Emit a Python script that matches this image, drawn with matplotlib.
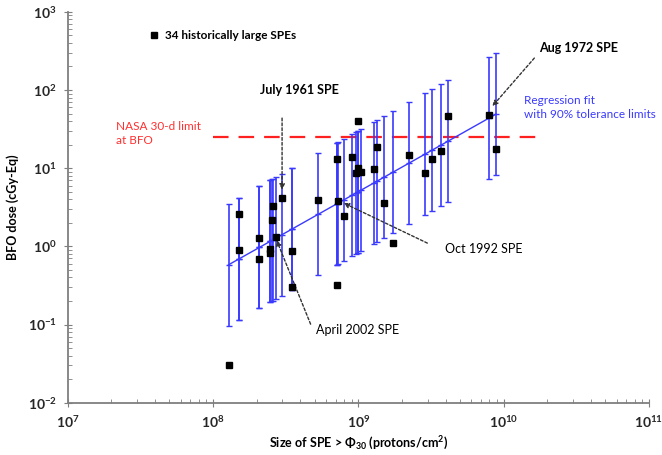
import numpy as np
import matplotlib.pyplot as plt
from matplotlib.ticker import LogLocator, FuncFormatter, NullFormatter

plt.rcParams['font.family'] = ['Lato', 'DejaVu Sans']
plt.rcParams['mathtext.fontset'] = 'custom'
plt.rcParams['mathtext.rm'] = 'Lato:bold'
plt.rcParams['mathtext.bf'] = 'Lato:bold'
plt.rcParams['mathtext.it'] = 'Lato:bold'

# SPE size (protons/cm2) and BFO dose (cGy-Eq)
spe_size = [1.28e8, 1.50e8, 1.51e8, 2.09e8, 2.09e8, 2.48e8, 2.48e8, 2.54e8, 2.59e8,
            2.73e8, 2.99e8, 3.48e8, 3.48e8, 5.29e8, 7.13e8, 7.21e8, 7.13e8, 7.93e8,
            9.04e8, 9.94e8, 9.94e8, 9.58e8, 1.04e9, 1.336e9, 1.288e9, 1.50e9, 1.73e9,
            2.25e9, 2.89e9, 3.24e9, 3.72e9, 4.17e9, 7.99e9, 8.88e9]
bfo_dose = [0.030, 0.897, 2.61, 1.28, 0.682, 0.916, 0.82, 2.19, 3.30,
            1.33, 4.15, 0.884, 0.299, 3.91, 12.96, 3.85, 0.317, 2.44,
            13.7, 39.7, 10.1, 8.73, 9.05, 18.5, 9.88, 3.61, 1.09,
            14.8, 8.79, 12.96, 16.7, 46.4, 48.2, 17.7]

# half width of the 90% tolerance band, in decades
tol_decades = 0.78
nasa_limit = 25.0

x = np.array(spe_size)
y = np.array(bfo_dose)
# log-log regression fit
slope, intercept = np.polyfit(np.log10(x), np.log10(y), 1)
order = np.argsort(x)
xs = x[order]
pred = 10 ** (intercept + slope * np.log10(xs))
lower = pred - pred / 10 ** tol_decades
upper = pred * 10 ** tol_decades - pred

blue = '#3a3aff'
fig = plt.figure(figsize=(6.62, 4.55), dpi=100)
ax = fig.add_axes([0.1023, 0.115, 0.8777, 0.859])

ax.errorbar(xs, pred, yerr=[lower, upper], fmt='-', color=blue, lw=1.0,
            elinewidth=1.2, capsize=2.5, capthick=1.0, marker='_', ms=5, zorder=2)
ax.plot(x, y, 's', color='black', ms=5, zorder=4, label='34 historically large SPEs')

ax.plot([1e8, 1.85e10], [nasa_limit, nasa_limit], color='#ff2020', lw=1.6,
        dashes=(7, 4.5), zorder=1)

ax.set_xscale('log')
ax.set_yscale('log')
ax.set_xlim(1e7, 1e11)
ax.set_ylim(1e-2, 1e3)

fmt = FuncFormatter(lambda v, p: r'$\mathbf{10^{%d}}$' % round(np.log10(v)))
for axis in (ax.xaxis, ax.yaxis):
    axis.set_major_locator(LogLocator(base=10, numticks=10))
    axis.set_minor_locator(LogLocator(base=10, subs=np.arange(2, 10), numticks=10))
    axis.set_major_formatter(fmt)
    axis.set_minor_formatter(NullFormatter())

for s in ('top', 'right'):
    ax.spines[s].set_visible(False)
for s in ('left', 'bottom'):
    ax.spines[s].set_color('#7f7f7f')
    ax.spines[s].set_linewidth(1.3)
ax.tick_params(which='major', direction='inout', length=6, color='#7f7f7f',
               labelsize=10, labelcolor='#262626', pad=5)
ax.tick_params(which='minor', direction='in', length=3, color='#7f7f7f')

ax.set_xlabel(r'Size of SPE > Φ$_{\mathbf{30}}$ (protons/cm$^{\mathbf{2}}$)',
              fontsize=9, fontweight='bold', labelpad=4)
ax.set_ylabel('BFO dose (cGy-Eq)', fontsize=9, fontweight='bold', labelpad=6)

ax.legend(loc='upper left', bbox_to_anchor=(0.12, 0.98), frameon=False,
          prop={'weight': 'bold', 'size': 8.5}, handlelength=1.0,
          handletextpad=0.4, markerscale=1.0)

ax.text(2.15e7, 27.7, 'NASA 30-d limit\nat BFO', color='#ff3030', fontsize=8.5,
        ha='left', va='center', linespacing=1.3)
ax.text(1.39e10, 59.6, 'Regression fit\nwith 90% tolerance limits', color=blue,
        fontsize=8.5, ha='left', va='center', linespacing=1.3)

arrow = dict(arrowstyle='-|>', color='#333333', lw=1.0, ls=(0, (2, 1.5)),
             mutation_scale=8, shrinkA=0, shrinkB=0)
ax.text(3.95e8, 100, 'July 1961 SPE', fontsize=9, fontweight='bold',
        ha='center', va='center')
ax.annotate('', xy=(2.99e8, 5.3), xytext=(2.99e8, 43.7), arrowprops=arrow)
ax.text(1.76e10, 344, 'Aug 1972 SPE', fontsize=9, fontweight='bold',
        ha='left', va='center')
ax.annotate('', xy=(8.38e9, 62), xytext=(1.63e10, 256), arrowprops=arrow)
ax.text(3.98e9, 0.916, 'Oct 1992 SPE', fontsize=9, ha='left', va='center')
ax.annotate('', xy=(7.93e8, 3.58), xytext=(2.99e9, 1.10), arrowprops=arrow)
ax.text(5.14e8, 0.085, 'April 2002 SPE', fontsize=9, ha='left', va='center')
ax.annotate('', xy=(2.74e8, 1.2), xytext=(4.7e8, 0.101), arrowprops=arrow)

fig.savefig('out.png', dpi=100)
